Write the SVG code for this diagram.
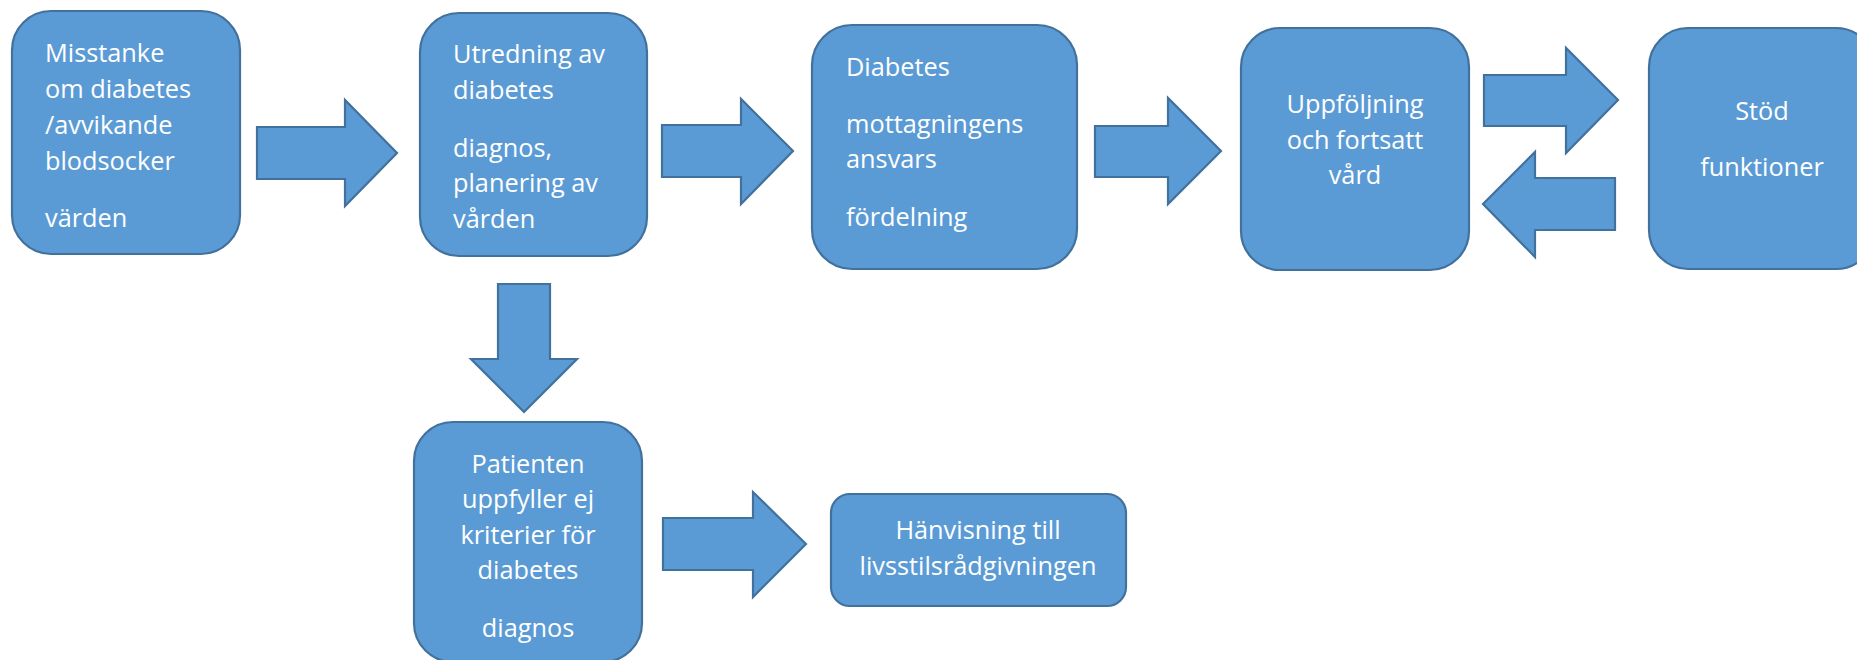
<svg xmlns="http://www.w3.org/2000/svg" width="1857" height="660" viewBox="0 0 1857 660">
<style>
.box{fill:#5B9BD5;stroke:#41719C;stroke-width:2.2}
.arr{fill:#5B9BD5;stroke:#41719C;stroke-width:2.2;stroke-linejoin:miter}
text{font-family:"Open Sans","Noto Sans","Liberation Sans",sans-serif;font-size:25.3px;fill:#FFFFFF}
.c{text-anchor:middle}
</style>
<rect width="1857" height="660" fill="#FFFFFF"/>
<g id="connectors">
<polygon class="arr" points="257,127 345,127 345,100 397,153 345,206 345,179 257,179"/>
<polygon class="arr" points="662,125 741,125 741,99 793,151 741,204 741,177 662,177"/>
<polygon class="arr" points="1095,126 1168,126 1168,98 1221,151 1168,204 1168,177 1095,177"/>
<polygon class="arr" points="1484,75 1566,75 1566,48 1618,100 1566,153 1566,126 1484,126"/>
<polygon class="arr" points="1615,178 1535,178 1535,152 1483,204 1535,257 1535,230 1615,230"/>
<polygon class="arr" points="498,284 550,284 550,359 577,359 524,412 471,359 498,359"/>
<polygon class="arr" points="663,518 753,518 753,492 806,544 753,597 753,570 663,570"/>
</g>
<g id="n1">
<rect class="box" x="12" y="11" width="228" height="243" rx="39" ry="39"/>
<text x="45" y="62">Misstanke</text>
<text x="45" y="98">om diabetes</text>
<text x="45" y="134">/avvikande</text>
<text x="45" y="170">blodsocker</text>
<text x="45" y="227">värden</text>
</g>
<g id="n2">
<rect class="box" x="420" y="13" width="227" height="243" rx="39" ry="39"/>
<text x="453" y="63">Utredning av</text>
<text x="453" y="99">diabetes</text>
<text x="453" y="157">diagnos,</text>
<text x="453" y="192">planering av</text>
<text x="453" y="228">vården</text>
</g>
<g id="n3">
<rect class="box" x="812" y="25" width="265" height="244" rx="40" ry="40"/>
<text x="846" y="76">Diabetes</text>
<text x="846" y="133">mottagningens</text>
<text x="846" y="168">ansvars</text>
<text x="846" y="226">fördelning</text>
</g>
<g id="n4">
<rect class="box" x="1241" y="28" width="228" height="242" rx="39" ry="39"/>
<text class="c" x="1355" y="113">Uppföljning</text>
<text class="c" x="1355" y="149">och fortsatt</text>
<text class="c" x="1355" y="184">vård</text>
</g>
<g id="n5">
<rect class="box" x="1649" y="28" width="226" height="241" rx="39" ry="39"/>
<text class="c" x="1762" y="120">Stöd</text>
<text class="c" x="1762" y="176">funktioner</text>
</g>
<g id="n6">
<rect class="box" x="414" y="422" width="228" height="240" rx="39" ry="39"/>
<text class="c" x="528" y="473">Patienten</text>
<text class="c" x="528" y="508">uppfyller ej</text>
<text class="c" x="528" y="544">kriterier för</text>
<text class="c" x="528" y="579">diabetes</text>
<text class="c" x="528" y="637">diagnos</text>
</g>
<g id="n7">
<rect class="box" x="831" y="494" width="295" height="112" rx="19" ry="19"/>
<text class="c" x="978" y="539">Hänvisning till</text>
<text class="c" x="978" y="575">livsstilsrådgivningen</text>
</g>
</svg>
